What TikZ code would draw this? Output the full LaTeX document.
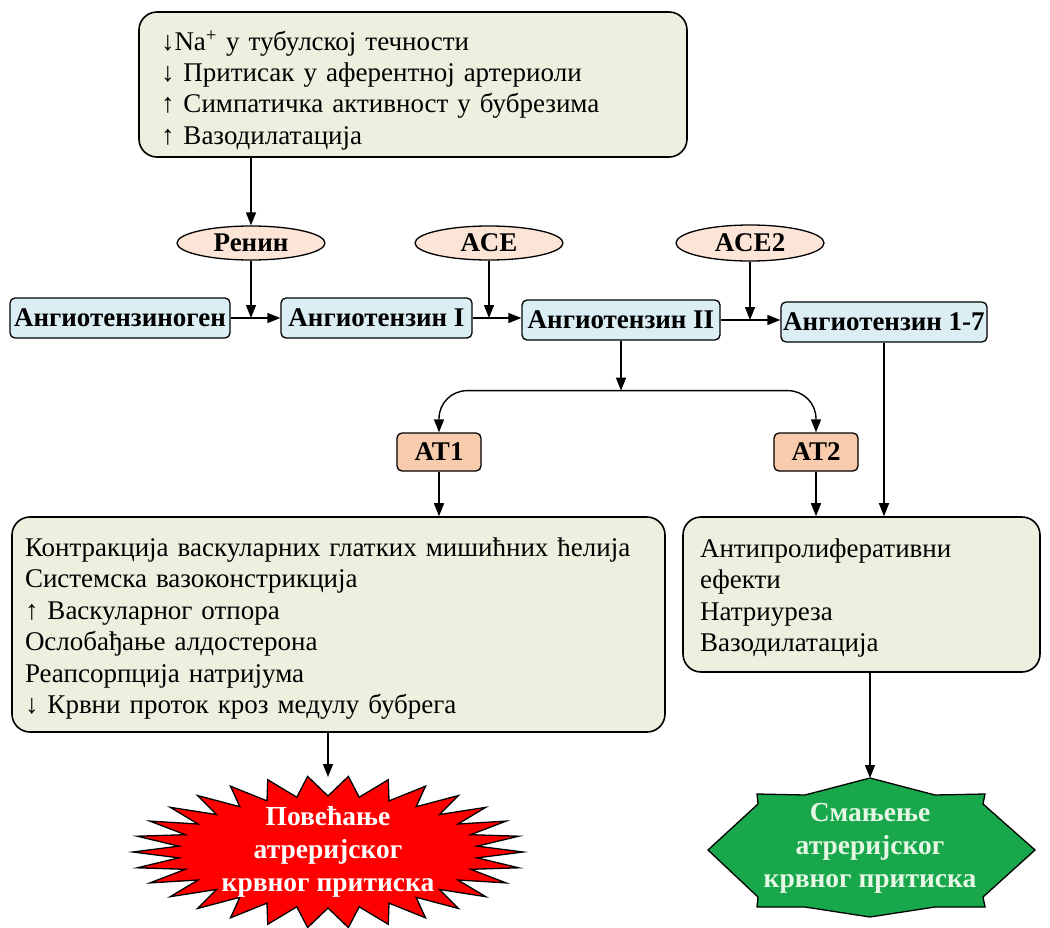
\documentclass[tikz,border=0pt]{standalone}
\usepackage{fontspec}
\setmainfont{Liberation Serif}
\usetikzlibrary{arrows.meta,shapes.geometric}
\definecolor{boxgreen}{HTML}{EBF1DE}
\definecolor{boxblue}{HTML}{DAEEF3}
\definecolor{enzfill}{HTML}{FCE4D6}
\definecolor{atfill}{HTML}{F8CBAD}
\definecolor{burstred}{HTML}{FF0000}
\definecolor{stargreen}{HTML}{18A84B}
\definecolor{palegreen}{HTML}{E6F7E6}
\begin{document}
\begin{tikzpicture}[x=1pt,y=-1pt,
  arr/.style={line width=1.4pt,-{Triangle[length=13pt,width=10pt]}},
  bigbox/.style={draw,line width=1.6pt,rounded corners=18pt,fill=boxgreen,align=left,
    font=\fontsize{27}{31.4}\selectfont},
  pbox/.style={draw,line width=1.3pt,rounded corners=5pt,fill=boxblue,inner sep=0pt,
    minimum height=40pt,font=\bfseries\fontsize{27}{29}\selectfont},
  enz/.style={draw,line width=1.3pt,ellipse,fill=enzfill,inner sep=0pt,minimum height=34pt,
    minimum width=148pt,font=\bfseries\fontsize{27}{29}\selectfont},
  atbox/.style={draw,line width=1.3pt,rounded corners=5pt,fill=atfill,inner sep=0pt,
    minimum height=38pt,minimum width=84pt,font=\bfseries\fontsize{27}{29}\selectfont},
  startext/.style={align=center,font=\bfseries\fontsize{27.5}{33}\selectfont}
]
\useasboundingbox (0,0) rectangle (1050,927);

% top box
\node[bigbox,text width=504pt,inner xsep=22pt,minimum height=145pt] (top) at (413,84.5)
 {\rule{0pt}{31pt}↓Na\textsuperscript{+} у тубулској течности\\
  ↓ Притисак у аферентној артериоли\\
  ↑ Симпатичка активност у бубрезима\\
  ↑ Вазодилатација};

% enzymes
\node[enz] (renin) at (251,243) {Ренин};
\node[enz] (ace) at (489,243) {ACE};
\node[enz,minimum height=36pt] (ace2) at (750,243) {ACE2};

% peptides
\node[pbox,minimum width=220pt] (agen) at (120,318) {Ангиотензиноген};
\node[pbox,minimum width=191pt] (a1) at (376.5,318) {Ангиотензин I};
\node[pbox,minimum width=198pt] (a2) at (621,320) {Ангиотензин II};
\node[pbox,minimum width=206pt] (a17) at (884,322) {Ангиотензин 1-7};

% receptors
\node[atbox] (at1) at (439,452) {AT1};
\node[atbox] (at2) at (816,452) {AT2};

% effect boxes
\node[bigbox,text width=627pt,inner xsep=13pt,minimum height=215pt] (left) at (338.5,624.5)
 {\rule{0pt}{27pt}Контракција васкуларних глатких мишићних ћелија\\
  Системска вазоконстрикција\\
  ↑ Васкуларног отпора\\
  Ослобађање алдостерона\\
  Реапсорпција натријума\\
  ↓ Крвни проток кроз медулу бубрега};
\node[bigbox,text width=323pt,inner xsep=17pt,minimum height=155pt] (right) at (861.5,594.5)
 {\rule{0pt}{26pt}Антипролиферативни\\
  ефекти\\
  Натриуреза\\
  Вазодилатација};

% red starburst
\draw[line width=1.3pt,fill=burstred]
  (523,852) \foreach \k in {0,...,29} {
    -- ({328+195*cos(\k*12)},{852-76*sin(\k*12)})
    -- ({328+150*cos((\k+0.5)*12)},{852-56*sin((\k+0.5)*12)}) } -- cycle;
\coordinate (redtop) at (328,777);
\node[startext,text=white] (redc) at (328,852) {Повећање\\атреријског\\крвног притиска};

% green star
\draw[line width=1.3pt,fill=stargreen]
  (870,778) -- (805,795) -- (757,794) -- (758,804) -- (708,850) -- (758,897)
  -- (757,907) -- (805,907) -- (870,917) -- (935,907) -- (985,907) -- (983,897)
  -- (1035,850) -- (983,804) -- (985,794) -- (935,795) -- cycle;
\coordinate (greentop) at (870,778);
\node[startext,text=palegreen] (greenc) at (870,848) {Смањење\\атреријског\\крвног притиска};

% connectors
\draw[arr] (top.south -| renin.north) -- (renin.north);
\coordinate (j1) at (renin.south |- agen.east);
\draw[arr] (renin.south) -- (j1);
\draw[arr] (agen.east) -- (a1.west);
\coordinate (j2) at (ace.south |- a1.east);
\draw[arr] (ace.south) -- (j2);
\draw[arr] (a1.east) -- (a1.east -| a2.west);
\coordinate (j3) at (ace2.south |- a2.east);
\draw[arr] (ace2.south) -- (j3);
\draw[arr] (a2.east) -- (a2.east -| a17.west);
\coordinate (split) at ([yshift=-50pt]a2.south);
\draw[arr] (a2.south) -- (split);
\draw[arr,rounded corners=28pt] (split) -| (at1.north);
\draw[arr,rounded corners=28pt] (split) -| (at2.north);
\draw[arr] (at1.south) -- (at1.south |- left.north);
\draw[arr] (at2.south) -- (at2.south |- right.north);
\draw[arr] (a17.south) -- (a17.south |- right.north);
\draw[arr] (left.south -| redtop) -- (redtop);
\draw[arr] (right.south -| greentop) -- (greentop);
\end{tikzpicture}
\end{document}
